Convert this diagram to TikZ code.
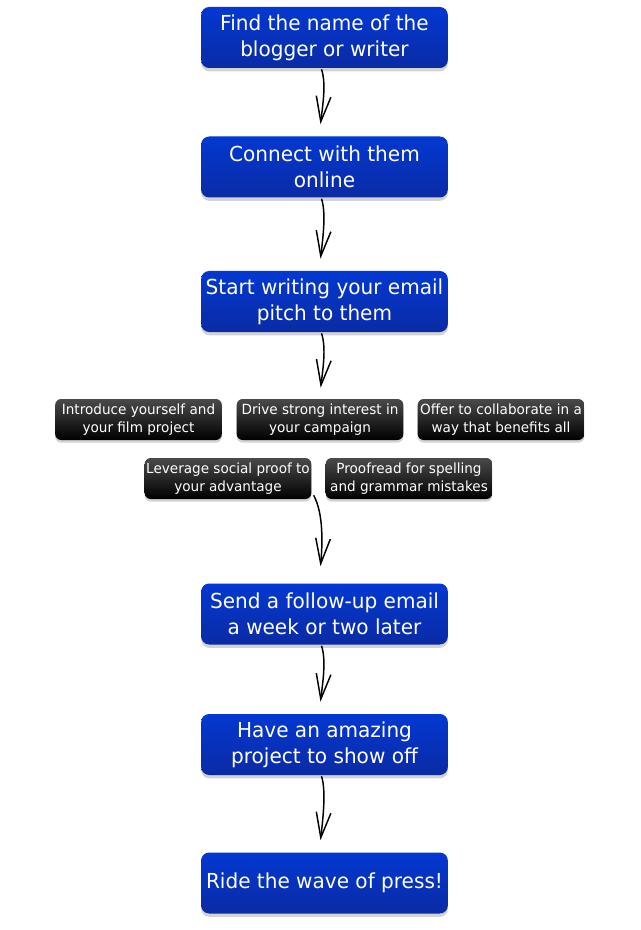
\documentclass[tikz,border=0pt]{standalone}
\usepackage{fontspec}
\setmainfont{DejaVu Sans}[FakeStretch=0.97]
\usetikzlibrary{arrows.meta, shadows, calc}
\definecolor{btop}{HTML}{0338D2}
\definecolor{bbot}{HTML}{0A2BA4}
\definecolor{ktop}{HTML}{4A4A4A}
\definecolor{kbot}{HTML}{000000}
\tikzset{
  stepbox/.style={rounded corners=6pt, top color=btop, bottom color=bbot, text=white, align=center,
    minimum width=185pt, minimum height=45.75pt, inner xsep=1pt, font=\fontsize{15.5}{19.5}\selectfont,
    drop shadow={shadow xshift=0pt, shadow yshift=-2.5pt, opacity=0.35}},
  tipbox/.style={rounded corners=4.5pt, top color=ktop, bottom color=kbot, text=white, align=center,
    minimum width=125pt, minimum height=30.75pt, inner xsep=1pt, font=\fontsize{10.5}{13.5}\selectfont,
    drop shadow={shadow xshift=0pt, shadow yshift=-2pt, opacity=0.35}},
  sketch/.style={-{Straight Barb[length=19pt, width=11pt]}, line width=1.1pt, black},
}

\begin{document}
\begin{tikzpicture}[x=0.75pt, y=-0.75pt]
  \useasboundingbox (0,0) rectangle (640,930);
  % main steps
  \node[stepbox] (s1) at (324.5,37.5) {Find the name of the\\blogger or writer};
  \node[stepbox] (s2) at (324.5,167) {Connect with them\\online};
  \node[stepbox] (s3) at (324.5,301.5) {Start writing your email\\pitch to them};
  \node[stepbox] (s4) at (324.5,614) {Send a follow-up email\\a week or two later};
  \node[stepbox] (s5) at (324.5,744.5) {Have an amazing\\project to show off};
  \node[stepbox] (s6) at (324.5,883) {Ride the wave of press!};
  % pitch tips
  \node[tipbox] (t1) at (138.5,419.5) {Introduce yourself and\\your film project};
  \node[tipbox] (t2) at (320,419.5) {Drive strong interest in\\your campaign};
  \node[tipbox] (t3) at (501,419.5) {Offer to collaborate in a\\way that benefits all};
  \node[tipbox] (t4) at (228,478.5) {Leverage social proof to\\your advantage};
  \node[tipbox] (t5) at (409,478.5) {Proofread for spelling\\and grammar mistakes};
  % hand drawn arrows
  \foreach \a/\b in {s1/s2, s2/s3, s4/s5, s5/s6}
    \draw[sketch] ($(\a.south)+(-3,1)$) .. controls +(5,15) and +(2,-18) .. ($(\b.north)+(-4,-12)$);
  \draw[sketch] ($(s3.south)+(-3,1)$) .. controls +(5,15) and +(2,-18) .. ($(t2.north)+(0.7,-11)$);
  \draw[sketch] ($(t4.south east)+(2,-4)$) .. controls +(10,18) and +(2,-22) .. ($(s4.north)+(-4,-17)$);
\end{tikzpicture}
\end{document}
